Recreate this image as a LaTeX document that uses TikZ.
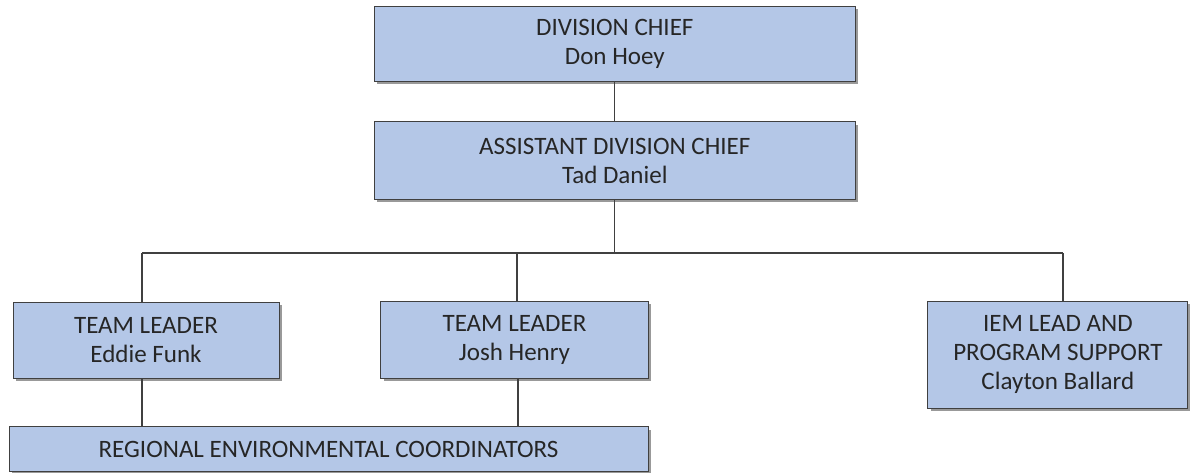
\documentclass[tikz,border=0pt]{standalone}
\usepackage{fontspec}
\setmainfont{Carlito}
\usetikzlibrary{shadows}
\definecolor{boxblue}{HTML}{B4C7E7}
\definecolor{edgegray}{HTML}{404040}

\begin{document}
\begin{tikzpicture}[x=0.025cm, y=-0.025cm,
    orgbox/.style={draw=edgegray, line width=0.6pt, fill=boxblue, align=center,
      inner sep=0pt, font=\fontsize{17.8}{20.6}\selectfont, text=black!85,
      drop shadow={shadow xshift=2pt, shadow yshift=-2pt, fill=black, opacity=0.4}},
    link/.style={draw=black!75, line width=0.8pt}]
      \useasboundingbox (0,0) rectangle (1190,473);
      % Boxes:
      \node[orgbox, minimum width=481.7*0.025cm, minimum height=75.7*0.025cm] (chief) at (614.8,43.8) {DIVISION CHIEF\\Don Hoey};
      \node[orgbox, minimum width=481.7*0.025cm, minimum height=77.6*0.025cm] (asst) at (614.8,160.5) {ASSISTANT DIVISION CHIEF\\Tad Daniel};
      \node[orgbox, minimum width=266*0.025cm, minimum height=76*0.025cm] (lead1) at (146,340) {TEAM LEADER\\Eddie Funk};
      \node[orgbox, minimum width=267.6*0.025cm, minimum height=77*0.025cm] (lead2) at (514.5,339.5) {TEAM LEADER\\Josh Henry};
      \node[orgbox, minimum width=260*0.025cm, minimum height=107*0.025cm] (iem) at (1057.9,354.5) {IEM LEAD AND\\PROGRAM SUPPORT\\Clayton Ballard};
      \node[orgbox, minimum width=639*0.025cm, minimum height=45*0.025cm] (coord) at (328.5,449.2) {REGIONAL ENVIRONMENTAL COORDINATORS};
      % Lines:
      \coordinate (bus) at (614.5,253);
      \coordinate (busL) at (142,253);
      \coordinate (busM) at (517,253);
      \coordinate (busR) at (1063,253);
      \draw[link] (chief) -- (asst);
      \draw[link] (bus |- asst.south) -- (bus);
      \draw[link] (busL) -- (busR);
      \draw[link] (busL) -- (busL |- lead1.north);
      \draw[link] (busM) -- (busM |- lead2.north);
      \draw[link] (busR) -- (busR |- iem.north);
      \draw[link] (busL |- lead1.south) -- (busL |- coord.north);
      \draw[link] ([xshift=0.025cm]busM |- lead2.south) -- ([xshift=0.025cm]busM |- coord.north);
    \end{tikzpicture}
\end{document}
